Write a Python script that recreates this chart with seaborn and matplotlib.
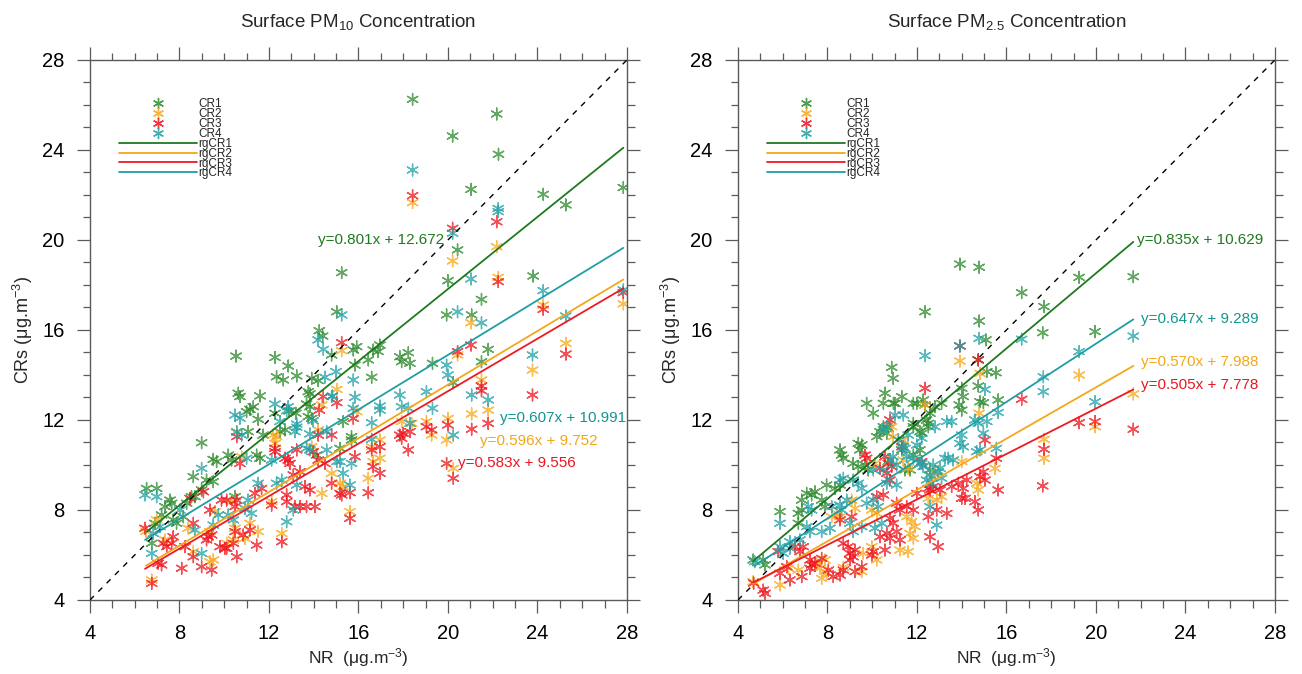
import numpy as np
import pandas as pd
import matplotlib
matplotlib.use("Agg")
import matplotlib.pyplot as plt
from matplotlib.lines import Line2D
from matplotlib.ticker import MultipleLocator
import seaborn as sns

# ---------------- data ----------------
SERIES = ["CR1", "CR2", "CR3", "CR4"]
COLORS = {"CR1": "#2e8b2e", "CR2": "#f7a81b", "CR3": "#f0141e", "CR4": "#22a2a6"}
LINE_COLORS = {"CR1": "#1f7a1f", "CR2": "#f5a71a", "CR3": "#ee1a22", "CR4": "#1f9ea3"}
TEXT_COLORS = {"CR1": "#1f7a1f", "CR2": "#f2a71a", "CR3": "#ea1620", "CR4": "#14958f"}

PM10_CR1 = [(6.53,8.96),(6.98,8.96),(7.58,8.44),(7.65,8.3),(7.35,8.15),(7.2,7.78),(6.9,7.41),(6.76,6.52),
            (7.72,7.56),(7.87,7.41),(8.17,7.7),(8.32,8.3),(8.54,8.59),(8.69,8.59),(8.62,9.48),(8.99,10.99),
            (9.51,10.25),(9.66,10.15),(9.21,9.33),(9.51,9.26),(8.99,8.89),(10.18,10.44),(10.33,10.22),
            (11.45,10.44),(11.6,10.3),(10.48,8.59),(10.53,14.84),(12.27,14.78),(12.86,14.4),(12.34,13.92),
            (12.64,13.78),(13.24,13.96),(13.91,13.85),(14.2,13.75),(10.63,13.19),(10.7,13.04),(11.6,13.07),
            (13.76,13.26),(13.83,13.16),(11.3,12.59),(11.15,12.47),(11.0,12.37),(12.9,12.4),(13.2,12.3),
            (13.83,12.59),(13.68,12.71),(11.52,12.03),(12.27,12.3),(13.76,12.15),(13.91,12.07),(11.07,11.48),
            (11.74,11.33),(12.49,11.48),(12.72,11.56),(14.13,10.44),(14.25,15.97),(14.4,15.73),(14.8,14.89),
            (15.25,18.55),(15.03,16.81),(15.77,15.11),(15.92,15.26),(16.66,15.11),(16.96,15.33),(16.88,15.04),
            (16.44,14.67),(15.84,14.44),(17.85,14.81),(18.23,14.99),(17.93,14.59),(18.3,14.52),(19.31,14.52),
            (16.59,13.9),(15.32,11.93),(15.69,11.26),(15.17,10.74),(15.69,11.11),(18.42,26.25),(22.18,25.6),
            (20.21,24.62),(22.26,23.81),(21.03,22.25),(24.26,22.03),(27.84,22.33),(25.27,21.56),(20.43,19.56),
            (20.0,18.19),(23.81,18.4),(21.5,17.36),(19.94,16.67),(21.06,16.67),(21.8,15.14),(21.5,14.59),
            (20.24,13.66)]
PM10_CR2 = [(6.5,7.05),(6.98,7.56),(7.35,6.67),(6.76,4.89),(8.62,6.15),(9.36,5.7),(9.51,5.78),(10.11,6.52),
            (9.36,7.04),(8.39,7.19),(9.59,7.93),(10.33,8.37),(10.48,7.19),(10.41,6.67),(10.93,6.74),(11.15,7.41),
            (11.52,7.04),(12.12,8.37),(12.57,6.96),(14.36,8.74),(10.56,11.44),(10.78,10.37),(12.19,11.33),
            (12.34,11.26),(12.27,10.96),(13.91,10.81),(14.2,11.56),(14.36,12.67),(15.03,13.36),(15.25,15.08),
            (15.92,12.37),(16.59,10.81),(16.96,11.11),(16.66,10.15),(16.96,10.3),(16.44,9.41),(15.17,9.19),
            (15.32,9.04),(15.62,7.93),(14.8,9.63),(17.93,11.93),(18.38,11.85),(19.04,11.93),(19.27,11.33),
            (20.0,12.07),(19.94,11.11),(20.24,9.85),(20.43,14.89),(21.03,16.32),(21.5,13.78),(21.8,12.44),
            (21.06,12.27),(23.78,14.22),(25.27,15.41),(24.26,17.11),(22.18,19.7),(20.21,19.07),(22.25,18.34),
            (18.42,21.66),(27.84,17.16)]
PM10_CR3 = [(6.46,7.19),(7.28,6.52),(7.43,6.37),(7.65,6.52),(7.72,6.81),(7.05,5.63),(7.2,5.56),(6.76,4.74),
            (8.1,5.41),(8.62,5.92),(8.25,6.37),(8.99,5.48),(9.44,5.33),(9.21,6.67),(9.29,6.81),(9.81,6.37),
            (10.11,6.3),(9.44,6.89),(8.62,7.41),(9.07,8.81),(8.47,8.52),(9.88,8.44),(10.11,8.44),(9.36,8.0),
            (10.56,8.44),(10.48,8.15),(10.48,7.04),(10.41,6.52),(10.03,6.3),(10.56,5.92),(10.85,6.89),
            (11.15,7.11),(11.45,6.44),(11.37,8.74),(11.67,8.96),(12.12,8.22),(12.57,6.59),(12.79,8.67),
            (12.79,8.37),(13.16,8.15),(13.39,8.15),(13.68,8.15),(14.06,8.15),(13.83,8.89),(13.61,9.04),
            (13.09,9.56),(13.39,9.7),(10.56,11.26),(10.7,10.07),(12.27,10.74),(12.27,10.59),(12.72,10.3),
            (12.86,10.22),(12.94,10.07),(13.24,10.67),(13.98,10.59),(14.2,10.22),(14.5,10.07),(14.43,13.04),
            (14.25,12.44),(14.2,11.33),(14.8,11.33),(14.8,9.19),(15.03,12.77),(15.77,12.07),(15.25,15.44),
            (15.17,8.74),(15.25,8.67),(15.62,8.77),(16.44,8.77),(15.62,7.63),(15.84,10.37),(16.59,10.67),
            (16.96,10.81),(16.66,9.93),(16.96,9.63),(17.85,11.33),(17.93,11.19),(18.0,11.41),(18.3,11.48),
            (18.23,10.67),(19.04,11.7),(19.27,11.56),(20.0,11.78),(19.94,10.07),(20.24,9.41),(20.43,15.04),
            (21.03,15.33),(21.5,13.51),(21.5,13.3),(21.8,11.85),(21.06,11.59),(23.78,13.11),(25.27,14.93),
            (24.26,16.92),(27.84,17.66),(22.18,20.81),(20.21,20.52),(18.42,21.97),(22.25,18.15)]
PM10_CR4 = [(6.46,8.67),(6.98,8.59),(7.13,7.26),(6.83,6.96),(6.76,6.07),(8.02,8.0),(8.99,9.85),(8.69,7.11),
            (9.51,7.33),(9.74,7.78),(10.18,7.78),(10.41,7.56),(11.22,7.85),(10.93,8.07),(11.07,8.44),(11.52,9.19),
            (12.79,7.48),(13.09,8.0),(12.34,9.19),(12.57,9.33),(13.24,9.11),(8.99,6.07),(11.0,10.3),(12.12,10.22),
            (13.68,10.74),(13.83,10.67),(14.58,10.67),(15.03,10.15),(10.48,12.22),(10.7,12.08),(12.49,11.93),
            (13.24,11.82),(13.98,11.97),(10.56,11.48),(10.78,11.33),(13.16,11.48),(13.24,11.68),(13.83,11.38),
            (14.58,11.48),(12.27,12.71),(12.86,12.59),(12.79,12.41),(14.2,15.56),(14.43,15.14),(14.5,13.9),
            (14.84,13.07),(15.0,14.15),(15.77,13.78),(15.84,13.01),(14.8,13.04),(15.77,12.52),(16.96,12.62),
            (16.96,12.44),(16.59,11.88),(17.85,13.11),(17.93,12.59),(18.23,12.52),(19.04,13.26),(19.31,12.52),
            (18.3,11.85),(20.24,11.33),(15.17,10.15),(15.69,10.07),(15.32,9.63),(15.62,9.11),(16.59,11.14),
            (15.25,16.67),(18.42,23.11),(22.25,21.4),(22.25,21.26),(20.21,20.3),(21.03,18.27),(24.26,17.75),
            (20.43,16.81),(25.27,16.62),(27.84,17.78),(21.5,16.32),(23.78,14.89),(19.94,14.44),(20.0,14.0),
            (21.06,13.11),(21.8,12.89)]

PM25_CR1 = [(4.68,5.78),(5.13,5.78),(5.21,5.56),(5.88,7.93),(6.7,7.41),(6.85,8.44),(7.07,8.74),(7.29,8.67),
            (7.44,8.81),(6.85,8.0),(6.7,7.85),(7.96,9.11),(7.74,8.44),(7.89,8.15),(8.56,10.67),(8.71,10.3),
            (8.63,10.44),(9.38,10.96),(9.53,10.89),(9.45,10.67),(9.15,10.07),(9.38,9.93),(9.68,10.0),(9.82,9.78),
            (8.34,8.96),(8.56,9.11),(10.05,12.3),(9.75,12.74),(10.5,12.74),(10.95,12.74),(10.5,11.7),(10.72,11.63),
            (10.65,11.41),(10.2,11.26),(10.35,11.48),(11.84,11.7),(12.21,11.41),(12.43,12.0),(12.51,11.7),
            (11.84,12.74),(12.36,12.67),(11.69,9.78),(12.58,9.78),(13.92,18.93),(14.78,18.79),(12.36,16.81),
            (16.68,17.66),(17.68,17.04),(19.25,18.34),(14.78,16.4),(15.08,15.56),(17.62,15.88),(19.96,15.93),
            (15.12,14.15),(15.53,14.1),(10.87,14.34),(10.94,13.85),(14.0,13.41),(14.07,13.04),(14.74,13.51),
            (14.82,12.81),(14.97,12.77),(15.63,12.89),(13.89,12.67),(14.0,12.44),(13.1,12.74),(12.8,12.59),
            (12.28,12.89),(11.99,12.74),(10.57,13.19),(11.32,13.04),(11.02,12.74),(12.58,12.3),(12.51,11.85),
            (12.13,11.48),(11.84,11.85),(12.13,10.67),(11.84,10.44),(11.32,10.67),(11.46,9.78),(21.67,18.37),
            (14.74,14.67)]
PM25_CR2 = [(4.68,4.81),(5.88,4.67),(6.7,5.33),(6.25,5.41),(7.52,5.63),(7.89,5.78),(7.66,5.41),(7.96,5.19),
            (7.74,4.96),(9.53,5.26),(8.19,7.7),(8.41,7.85),(8.56,7.7),(10.87,11.7),(10.12,10.07),(10.72,10.15),
            (11.39,10.22),(11.61,9.85),(12.8,9.7),(12.66,9.48),(12.51,8.52),(12.88,8.44),(11.54,7.7),(11.76,7.48),
            (11.91,7.26),(11.69,6.96),(11.84,6.74),(9.6,6.07),(9.98,6.37),(10.2,5.78),(11.24,6.22),(11.61,6.15),
            (9.98,8.0),(10.2,7.85),(9.08,8.44),(9.23,8.07),(13.92,14.62),(14.82,14.07),(19.25,14.0),(19.96,11.7),
            (17.68,11.14),(17.68,10.3),(14.78,12.3),(12.36,12.67),(14.0,10.15),(15.49,9.85),(14.67,9.19),
            (14.74,8.89),(13.1,8.59),(10.94,11.26),(11.39,11.11),(21.67,13.16),(8.71,5.45)]
PM25_CR3 = [(4.7,4.75),(5.13,4.44),(5.21,4.3),(5.8,6.15),(5.88,5.19),(6.32,4.89),(6.18,5.48),(6.55,6.37),
            (6.92,6.37),(6.77,6.15),(7.22,5.78),(7.29,5.56),(7.44,5.63),(7.22,5.41),(6.85,5.04),(7.74,5.85),
            (8.04,5.33),(8.26,5.04),(8.71,5.33),(8.56,5.11),(9.0,6.07),(9.23,6.22),(9.15,5.92),(9.0,5.78),
            (9.53,5.48),(9.23,5.26),(8.71,6.52),(8.93,6.37),(8.56,7.56),(9.08,7.7),(9.68,10.44),(9.75,10.3),
            (10.35,9.85),(10.65,9.63),(10.79,9.33),(12.51,8.96),(12.73,9.04),(12.51,7.7),(12.88,8.0),(12.58,6.81),
            (12.95,6.37),(11.54,8.15),(11.09,8.3),(11.84,8.0),(11.24,8.0),(10.79,7.63),(10.94,7.41),(10.65,6.96),
            (10.35,6.81),(10.79,6.74),(11.24,6.67),(11.09,7.04),(10.05,6.15),(9.98,6.0),(10.57,6.22),(10.2,8.59),
            (10.5,8.67),(10.79,12.0),(13.92,15.29),(14.74,14.67),(16.68,12.92),(19.25,11.88),(19.96,11.93),
            (17.68,10.7),(17.62,9.07),(12.36,13.41),(15.04,11.11),(15.55,10.3),(14.97,9.7),(14.82,9.48),
            (15.04,9.33),(15.63,8.89),(14.22,9.33),(14.07,8.96),(14.0,8.52),(14.15,8.52),(14.59,8.37),(14.74,8.0),
            (13.55,9.04),(13.85,9.19),(13.03,8.89),(12.58,8.89),(11.99,8.74),(13.33,7.85),(11.32,10.81),
            (10.57,10.37),(10.72,10.07),(10.87,9.93),(12.21,10.15),(21.67,11.59)]
PM25_CR4 = [(4.75,5.7),(5.88,7.41),(5.88,6.37),(6.02,6.07),(6.32,6.3),(7.14,8.15),(7.29,8.0),(7.07,7.26),
            (7.22,7.04),(6.77,6.67),(6.32,6.59),(7.74,7.04),(8.11,7.19),(8.63,8.0),(8.56,8.22),(8.86,8.44),
            (8.19,8.15),(9.0,7.41),(9.15,7.04),(9.53,7.26),(9.15,9.33),(9.38,9.19),(9.53,8.96),(8.56,9.33),
            (8.71,9.41),(11.02,12.22),(11.39,12.22),(11.17,11.11),(11.39,10.81),(11.61,11.33),(12.21,11.19),
            (11.99,10.89),(10.05,9.78),(10.5,9.78),(10.65,9.19),(11.09,9.11),(11.46,10.74),(11.54,10.37),
            (11.84,10.3),(12.21,10.07),(12.58,9.56),(12.43,9.33),(12.66,9.19),(12.58,8.15),(12.88,7.33),
            (10.12,7.19),(10.42,7.41),(9.75,8.3),(10.05,8.44),(10.27,8.15),(14.78,15.63),(16.68,15.59),
            (12.36,14.86),(13.92,15.29),(19.25,15.04),(17.65,13.92),(17.65,13.26),(19.96,12.81),(15.04,13.36),
            (15.63,12.33),(12.8,11.7),(13.33,11.93),(13.55,11.93),(14.59,12.0),(14.74,11.85),(15.12,11.93),
            (14.97,11.41),(14.0,11.33),(13.92,10.96),(14.07,10.81),(15.55,10.74),(14.67,10.59),(14.82,10.67),
            (13.4,10.3),(13.62,10.22),(13.25,10.3),(13.03,9.85),(12.95,9.7),(12.73,10.0),(10.94,10.37),
            (11.09,10.0),(10.79,10.22),(10.65,11.7),(10.5,11.56),(12.13,10.07),(12.28,9.93),(13.1,9.41),
            (21.67,15.73)]

# fitted lines as drawn (slope, intercept in plot units)
PM10_SLOPE = {"CR1": 0.801, "CR2": 0.596, "CR3": 0.583, "CR4": 0.607}
PM10_INTERCEPT = {"CR1": 1.80, "CR2": 1.65, "CR3": 1.62, "CR4": 2.75}
PM25_SLOPE = {"CR1": 0.835, "CR2": 0.570, "CR3": 0.505, "CR4": 0.647}
PM25_INTERCEPT = {"CR1": 1.82, "CR2": 2.05, "CR3": 2.41, "CR4": 2.45}

# equation labels and their positions (data coords, left edge)
PM10_EQ = {"CR1": ("y=0.801x + 12.672", 14.2, 20.0), "CR4": ("y=0.607x + 10.991", 22.32, 12.1),
           "CR2": ("y=0.596x + 9.752", 21.43, 11.07), "CR3": ("y=0.583x + 9.556", 20.45, 10.09)}
PM25_EQ = {"CR1": ("y=0.835x + 10.629", 21.82, 20.0), "CR4": ("y=0.647x + 9.289", 22.0, 16.49),
           "CR2": ("y=0.570x + 7.988", 22.0, 14.58), "CR3": ("y=0.505x + 7.778", 22.0, 13.56)}

TITLES = ["Surface PM$_{10}$ Concentration", "Surface PM$_{2.5}$ Concentration"]
XLABEL = "NR  (\u03bcg.m$^{-3}$)"
YLABEL = "CRs (\u03bcg.m$^{-3}$)"
TICKS = [4, 8, 12, 16, 20, 24, 28]

# ---------------- style ----------------
sns.set_theme(style="ticks")
plt.rcParams["font.family"] = ["Liberation Sans", "DejaVu Sans"]
plt.rcParams["mathtext.fontset"] = "custom"
plt.rcParams["mathtext.rm"] = "Liberation Sans"
plt.rcParams["mathtext.it"] = "Liberation Sans:italic"
plt.rcParams["mathtext.bf"] = "Liberation Sans:bold"

ASTER = (6, 2, 0)
AXCOL = "#5a5a5a"

def frame(points_by_series):
    rows = []
    for s, pts in points_by_series.items():
        for x, y in pts:
            rows.append({"series": s, "NR": x, "CR": y})
    return pd.DataFrame(rows)

fig = plt.figure(figsize=(13.02, 6.74), dpi=100)
ax1 = fig.add_axes([0.0691, 0.1098, 0.4124, 0.8012])
ax2 = fig.add_axes([0.5668, 0.1098, 0.4124, 0.8012])

panels = [
    (ax1, {"CR1": PM10_CR1, "CR2": PM10_CR2, "CR3": PM10_CR3, "CR4": PM10_CR4}, PM10_SLOPE, PM10_INTERCEPT, PM10_EQ, TITLES[0]),
    (ax2, {"CR1": PM25_CR1, "CR2": PM25_CR2, "CR3": PM25_CR3, "CR4": PM25_CR4}, PM25_SLOPE, PM25_INTERCEPT, PM25_EQ, TITLES[1]),
]

for ax, pts, slope, icpt, eqs, title in panels:
    df = frame(pts)
    sns.scatterplot(data=df, x="NR", y="CR", hue="series", hue_order=SERIES,
                    palette=COLORS, marker=ASTER, s=72, linewidth=1.0, alpha=0.75,
                    legend=False, ax=ax, zorder=2)
    # 1:1 line
    ax.plot([4, 28], [4, 28], color="black", lw=1.0, ls=(0, (4, 4.5)), zorder=3)
    # regression lines
    for s in SERIES:
        sub = df[df.series == s]
        xs = np.array([sub.NR.min(), sub.NR.max()])
        ax.plot(xs, slope[s] * xs + icpt[s], color=LINE_COLORS[s], lw=1.3, zorder=4)
        txt, tx, ty = eqs[s]
        ax.text(tx, ty, txt, color=TEXT_COLORS[s], fontsize=11, ha="left", va="center", zorder=5)
    ax.set_xlim(4, 28)
    ax.set_ylim(4, 28)
    ax.set_xticks(TICKS)
    ax.set_yticks(TICKS)
    ax.xaxis.set_minor_locator(MultipleLocator(1))
    ax.yaxis.set_minor_locator(MultipleLocator(1))
    ax.tick_params(which="both", direction="out", top=True, right=True, width=0.9, colors=AXCOL,
                   labelcolor="black")
    ax.tick_params(which="major", length=9.4, labelsize=14.5, pad=9)
    ax.tick_params(axis="x", which="major", pad=8)
    ax.tick_params(which="minor", length=5.4)
    for sp in ax.spines.values():
        sp.set_linewidth(1.0)
        sp.set_color(AXCOL)
    ax.set_xlabel(XLABEL, fontsize=12.5, labelpad=2)
    ax.set_ylabel(YLABEL, fontsize=13, labelpad=5)
    ax.set_title(title, fontsize=13.5, pad=24)

    handles = [Line2D([], [], marker=ASTER, ls="None", color=COLORS[s], markersize=8, mew=1.0, alpha=0.85) for s in SERIES]
    handles += [Line2D([], [], color=LINE_COLORS[s], lw=1.3) for s in SERIES]
    labels = SERIES + ["rg" + s for s in SERIES]
    ax.legend(handles, labels, loc="upper left", bbox_to_anchor=(0.054, 0.929), frameon=False,
              fontsize=8.5, labelspacing=-0.18, handlelength=6.6, handletextpad=0.1,
              borderpad=0, borderaxespad=0)

fig.savefig("out.png", dpi=100)
